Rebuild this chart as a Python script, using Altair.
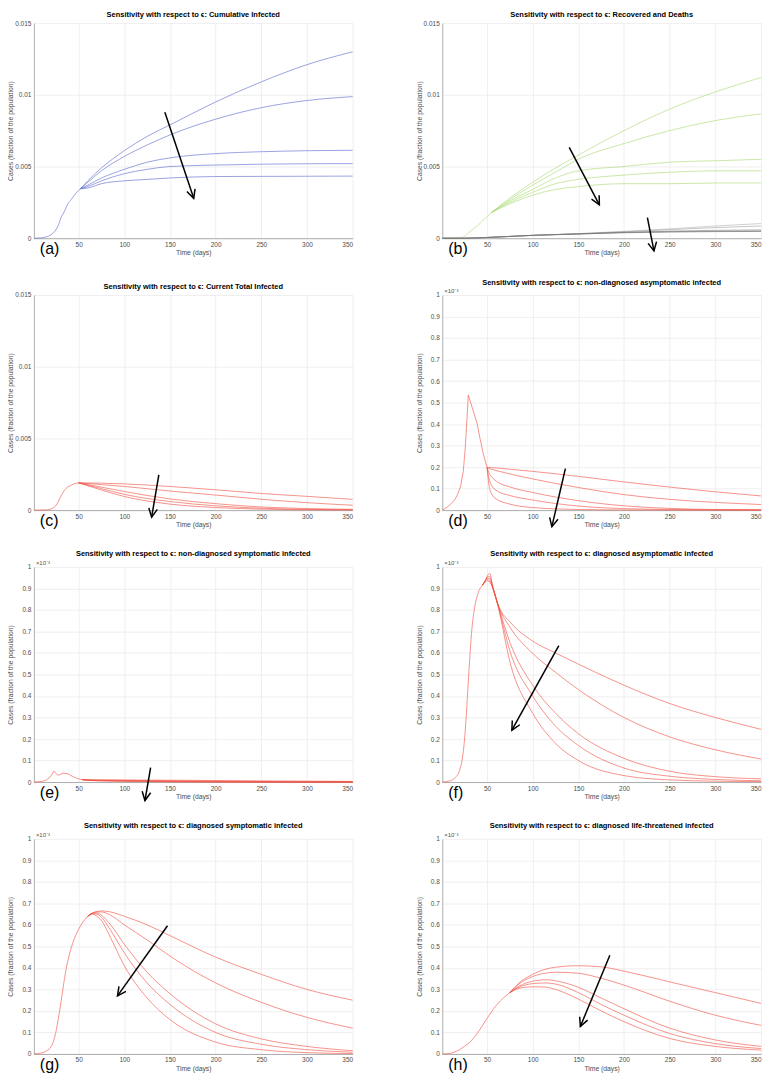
import math
import altair as alt
import pandas as pd

# ---------------- data ----------------
X_TICKS = [50, 100, 150, 200, 250, 300, 350]
Y_TICKS_BIG = [0, 0.005, 0.01, 0.015]
Y_TICKS_SMALL = [0, 0.1, 0.2, 0.3, 0.4, 0.5, 0.6, 0.7, 0.8, 0.9, 1.0]

# (a) cumulative infected
a_t_pre = [1, 10, 16, 20, 24, 27, 29, 31, 33, 36, 38, 42, 45, 49, 52]
a_v_pre = [0, 0.00003, 0.00012, 0.00025, 0.00049, 0.0008, 0.00112, 0.00149, 0.0017, 0.0021,
           0.00238, 0.0027, 0.00298, 0.00327, 0.00345]
a_t_post = [52, 60, 75, 100, 125, 150, 200, 250, 300, 350]
a_v_post = [
    [0.00345, 0.0040, 0.0049, 0.0061, 0.0071, 0.0079, 0.0095, 0.0109, 0.0121, 0.0130],
    [0.00345, 0.0039, 0.0047, 0.0057, 0.0065, 0.0072, 0.0083, 0.0091, 0.0096, 0.00987],
    [0.00345, 0.0037, 0.0042, 0.0048, 0.0053, 0.0056, 0.0059, 0.00603, 0.0061, 0.00613],
    [0.00345, 0.0036, 0.0040, 0.0045, 0.0048, 0.0050, 0.0051, 0.00516, 0.00519, 0.0052],
    [0.00345, 0.0035, 0.0038, 0.0040, 0.0041, 0.0042, 0.0043, 0.00431, 0.00432, 0.00433],
]

# (b) recovered (green) and deaths (grey)
b_t_pre = [1, 20, 25, 30, 35, 40, 45, 50, 55]
b_v_pre = [0, 0.00003, 0.0001, 0.0004, 0.00065, 0.0009, 0.0012, 0.0015, 0.0018]
b_t_post = [55, 75, 100, 125, 150, 200, 250, 300, 350]
b_v_post = [
    [0.0018, 0.0028, 0.0039, 0.0049, 0.0058, 0.0075, 0.0090, 0.0102, 0.0112],
    [0.0018, 0.0027, 0.0037, 0.0046, 0.0055, 0.0066, 0.0075, 0.0082, 0.00867],
    [0.0018, 0.0026, 0.0034, 0.0042, 0.0047, 0.0050, 0.0053, 0.0054, 0.0055],
    [0.0018, 0.0025, 0.0032, 0.0038, 0.0041, 0.0044, 0.0046, 0.0047, 0.0047],
    [0.0018, 0.0024, 0.0030, 0.0034, 0.0036, 0.0038, 0.0038, 0.00385, 0.00385],
]
b_t_death = [1, 25, 50, 100, 150, 200, 250, 300, 350]
b_v_death = [
    [0, 0, 0.00005, 0.0002, 0.00032, 0.00048, 0.00065, 0.00085, 0.00102],
    [0, 0, 0.00005, 0.0002, 0.00031, 0.00045, 0.0006, 0.00074, 0.00085],
    [0, 0, 0.00005, 0.0002, 0.0003, 0.00042, 0.0005, 0.00055, 0.00058],
    [0, 0, 0.00005, 0.0002, 0.0003, 0.0004, 0.00046, 0.00049, 0.00051],
    [0, 0, 0.00005, 0.0002, 0.00029, 0.00038, 0.00043, 0.00046, 0.00047],
]

# (c) current total infected
c_t_pre = [1, 15, 20, 24, 27, 30, 33, 36, 40, 45, 50]
c_v_pre = [0, 0.00002, 0.00008, 0.00025, 0.0005, 0.0009, 0.00125, 0.0015, 0.00168, 0.00183, 0.0019]
c_t_post = [50, 75, 100, 150, 200, 250, 300, 350]
c_v_post = [
    [0.0019, 0.00188, 0.00183, 0.00165, 0.00142, 0.00116, 0.00096, 0.00075],
    [0.0019, 0.00178, 0.00165, 0.00133, 0.00105, 0.00076, 0.00052, 0.00034],
    [0.0019, 0.0016, 0.0013, 0.00078, 0.00045, 0.00022, 0.00011, 0.00006],
    [0.0019, 0.0015, 0.0011, 0.0006, 0.0003, 0.00013, 0.00005, 0.00002],
    [0.0019, 0.0014, 0.00095, 0.00042, 0.00018, 0.00007, 0.00002, 0.00001],
]

# (d) non-diagnosed asymptomatic (x 1e-3)
d_t_pre = [1, 5, 10, 15, 18, 21, 24, 26, 28, 29.5, 35, 39, 42, 46, 50]
d_v_pre = [0, 0.01, 0.027, 0.05, 0.075, 0.11, 0.18, 0.28, 0.42, 0.535, 0.46, 0.405, 0.34, 0.26, 0.198]
d_t_post = [50, 52, 55, 60, 75, 100, 150, 200, 250, 300, 350]
d_v_post = [
    [0.198, 0.198, 0.197, 0.196, 0.19, 0.18, 0.157, 0.131, 0.107, 0.085, 0.066],
    [0.198, 0.194, 0.19, 0.184, 0.168, 0.145, 0.105, 0.072, 0.05, 0.036, 0.026],
    [0.198, 0.175, 0.155, 0.135, 0.108, 0.082, 0.044, 0.02, 0.008, 0.003, 0.002],
    [0.198, 0.15, 0.115, 0.092, 0.068, 0.047, 0.019, 0.007, 0.003, 0.001, 0.0005],
    [0.198, 0.12, 0.075, 0.052, 0.028, 0.012, 0.003, 0.001, 0.0003, 0.0001, 0],
]

# (e) non-diagnosed symptomatic (x 1e-3)
e_t_pre = [1, 10, 15, 19, 23, 25, 27.5, 30, 33, 38.5, 43, 49, 54]
e_v_pre = [0, 0.003, 0.01, 0.025, 0.051, 0.04, 0.031, 0.036, 0.041, 0.038, 0.027, 0.016, 0.011]
e_t_post = [54, 60, 75, 100, 150, 200, 250, 300, 350]
e_v_post = [
    [0.011, 0.010, 0.0098, 0.0095, 0.0085, 0.007, 0.0055, 0.0042, 0.003],
    [0.011, 0.0095, 0.009, 0.008, 0.006, 0.004, 0.0025, 0.0015, 0.001],
    [0.011, 0.009, 0.0075, 0.006, 0.003, 0.0015, 0.0007, 0.0003, 0.0001],
    [0.011, 0.0085, 0.0065, 0.0045, 0.002, 0.0008, 0.0003, 0.0001, 0],
    [0.011, 0.008, 0.005, 0.003, 0.001, 0.0003, 0.0001, 0, 0],
]

# (f) diagnosed asymptomatic (x 1e-3)
f_t_pre = [1, 10, 15, 20, 23, 25, 27, 29, 31, 33, 36, 40, 45]
f_v_pre = [0, 0.006, 0.02, 0.055, 0.11, 0.18, 0.29, 0.43, 0.57, 0.69, 0.80, 0.875, 0.915]
f_t_post = [45, 48, 50, 53, 56, 63, 75, 100, 125, 150, 200, 250, 300, 350]
f_v_post = [
    [0.915, 0.93, 0.935, 0.93, 0.905, 0.815, 0.745, 0.655, 0.6, 0.548, 0.45, 0.365, 0.30, 0.245],
    [0.915, 0.935, 0.942, 0.935, 0.905, 0.812, 0.72, 0.598, 0.51, 0.43, 0.30, 0.21, 0.15, 0.107],
    [0.915, 0.935, 0.948, 0.945, 0.91, 0.81, 0.65, 0.45, 0.32, 0.225, 0.11, 0.05, 0.025, 0.015],
    [0.915, 0.935, 0.952, 0.955, 0.91, 0.805, 0.61, 0.40, 0.26, 0.17, 0.065, 0.027, 0.012, 0.006],
    [0.915, 0.935, 0.955, 0.97, 0.915, 0.80, 0.56, 0.32, 0.18, 0.10, 0.03, 0.01, 0.004, 0.002],
]

# (g) diagnosed symptomatic (x 1e-3)
g_t_pre = [1, 10, 15, 20, 25, 28, 31, 34.5, 38, 43.5, 50, 55, 60]
g_v_pre = [0, 0.005, 0.015, 0.035, 0.1, 0.17, 0.25, 0.35, 0.43, 0.515, 0.58, 0.615, 0.64]
g_t_post = [60, 65, 70, 75, 85, 100, 125, 150, 200, 250, 300, 350]
g_v_post = [
    [0.64, 0.655, 0.662, 0.665, 0.66, 0.64, 0.6, 0.55, 0.45, 0.37, 0.30, 0.25],
    [0.64, 0.655, 0.66, 0.66, 0.645, 0.6, 0.53, 0.455, 0.33, 0.24, 0.17, 0.12],
    [0.64, 0.653, 0.655, 0.645, 0.6, 0.51, 0.38, 0.28, 0.14, 0.07, 0.035, 0.015],
    [0.64, 0.652, 0.65, 0.635, 0.575, 0.47, 0.33, 0.23, 0.10, 0.045, 0.02, 0.008],
    [0.64, 0.65, 0.64, 0.62, 0.54, 0.41, 0.26, 0.16, 0.055, 0.02, 0.006, 0.002],
]

# (h) diagnosed life-threatened (x 1e-3)
h_t_pre = [1, 10, 15, 20, 25, 30, 40, 50, 60, 70, 75]
h_v_pre = [0, 0.003, 0.01, 0.02, 0.035, 0.05, 0.1, 0.165, 0.225, 0.268, 0.285]
h_t_post = [75, 85, 100, 115, 125, 150, 175, 200, 250, 300, 350]
h_v_post = [
    [0.285, 0.33, 0.37, 0.395, 0.403, 0.41, 0.405, 0.385, 0.335, 0.285, 0.235],
    [0.285, 0.325, 0.36, 0.376, 0.38, 0.375, 0.352, 0.32, 0.245, 0.18, 0.133],
    [0.285, 0.315, 0.338, 0.345, 0.34, 0.31, 0.26, 0.21, 0.12, 0.065, 0.035],
    [0.285, 0.31, 0.327, 0.33, 0.325, 0.285, 0.23, 0.18, 0.095, 0.048, 0.025],
    [0.285, 0.305, 0.312, 0.31, 0.3, 0.255, 0.2, 0.15, 0.072, 0.035, 0.018],
]

# arrows: (t_start, v_start, t_end, v_end)
a_arrows = [(144.4, 0.00878, 176, 0.00278)]
b_arrows = [(140, 0.00633, 173, 0.00233), (225.6, 0.00144, 232.8, -0.00089)]
c_arrows = [(137.8, 0.00246, 129.9, -0.00049)]
d_arrows = [(135.8, 0.193, 121, -0.077)]
e_arrows = [(128.8, 0.067, 122.6, -0.086)]
f_arrows = [(128.6, 0.634, 77.2, 0.241)]
g_arrows = [(147.3, 0.596, 92.5, 0.27)]
h_arrows = [(184.5, 0.459, 152.2, 0.128)]

TITLE_PREFIX = "Sensitivity with respect to ϵ: "

# ---------------- styling / layout ----------------
W, H = 320, 216
X_DOM = [1, 350]
RED = "#ef4a3c"
BLUE = "#5566cc"
GREEN = "#a6d86a"
GREYS = ["#b0b0b0", "#a0a0a0", "#8c8c8c", "#7a7a7a", "#686868"]
FONT = "Liberation Sans"
HEAD = "M -0.5 1 L 0 0 L 0.5 1"
LW = 0.6
Y_TITLE = "Cases (fraction of the population)"


def curves_df(t_pre, v_pre, t_post, v_post):
    rows = [{"t": t, "v": v, "s": "pre"} for t, v in zip(t_pre, v_pre)]
    for i, vals in enumerate(v_post):
        rows += [{"t": t, "v": v, "s": f"s{i+1}"} for t, v in zip(t_post, vals)]
    return pd.DataFrame(rows)


def panel(title, letter, line_specs, ydom, yticks, yfmt, arrows, exponent=False):
    xscale = alt.Scale(domain=X_DOM, nice=False, zero=False)
    yscale = alt.Scale(domain=ydom, nice=False, zero=False)
    xaxis = alt.Axis(values=X_TICKS, title="Time (days)")
    yaxis = alt.Axis(values=yticks, format=yfmt, labelOverlap=False, title=Y_TITLE)
    xenc = alt.X("t:Q", scale=xscale, axis=xaxis)
    yenc = alt.Y("v:Q", scale=yscale, axis=yaxis)
    layers = []
    for df, color, interp, is_grey in line_specs:
        base = alt.Chart(df).mark_line(strokeWidth=LW, interpolate=interp, clip=False)
        if is_grey:
            layers.append(base.encode(
                x=xenc, y=yenc, detail="s:N",
                color=alt.Color("s:N", scale=alt.Scale(domain=[f"s{i+1}" for i in range(5)],
                                                       range=GREYS), legend=None)))
        else:
            layers.append(base.encode(x=xenc, y=yenc, detail="s:N", color=alt.value(color)))

    ys = ydom[1] - ydom[0]
    xs = X_DOM[1] - X_DOM[0]
    arr_rows = []
    for (t1, v1, t2, v2) in arrows:
        dx = (t2 - t1) * W / xs
        dy = -(v2 - v1) * H / ys
        ang = math.degrees(math.atan2(dx, -dy)) % 360
        arr_rows.append({"t": t1, "v": v1, "t2": t2, "v2": v2, "ang": ang})
    adf = pd.DataFrame(arr_rows)
    layers.append(alt.Chart(adf).mark_rule(color="black", strokeWidth=1.5).encode(
        x=xenc, y=yenc, x2="t2:Q", y2="v2:Q"))
    layers.append(alt.Chart(adf).mark_point(shape=HEAD, filled=False, color="black",
                                            strokeWidth=1.5, size=300, opacity=1).encode(
        x=alt.X("t2:Q", scale=xscale, axis=xaxis),
        y=alt.Y("v2:Q", scale=yscale, axis=yaxis),
        angle=alt.Angle("ang:Q", scale=None)))

    layers.append(alt.Chart(pd.DataFrame({"lab": [letter]})).mark_text(
        align="left", baseline="middle", fontSize=16, font=FONT, color="black").encode(
        text="lab:N", x=alt.value(6), y=alt.value(H + 11)))
    if exponent:
        layers.append(alt.Chart(pd.DataFrame({"lab": ["×10⁻³"]})).mark_text(
            align="left", baseline="bottom", fontSize=6, font=FONT, color="#555555").encode(
            text="lab:N", x=alt.value(2), y=alt.value(-1)))
    return alt.layer(*layers).properties(
        width=W, height=H,
        title=alt.TitleParams(TITLE_PREFIX + title, fontSize=7.5, fontWeight="bold",
                              font=FONT, color="black", offset=2))


BIG = dict(ydom=[0, 0.015], yticks=Y_TICKS_BIG, yfmt=".3~f")
SMALL = dict(ydom=[0, 1], yticks=Y_TICKS_SMALL, yfmt=".1~f", exponent=True)

pa = panel("Cumulative Infected", "(a)",
           [(curves_df(a_t_pre, a_v_pre, a_t_post, a_v_post), BLUE, "monotone", False)],
           arrows=a_arrows, **BIG)
pb = panel("Recovered and Deaths", "(b)",
           [(curves_df(b_t_pre, b_v_pre, b_t_post, b_v_post), GREEN, "monotone", False),
            (curves_df([], [], b_t_death, b_v_death), None, "monotone", True)],
           arrows=b_arrows, **BIG)
pc = panel("Current Total Infected", "(c)",
           [(curves_df(c_t_pre, c_v_pre, c_t_post, c_v_post), RED, "monotone", False)],
           arrows=c_arrows, **BIG)
pd_ = panel("non-diagnosed asymptomatic infected", "(d)",
            [(curves_df(d_t_pre, d_v_pre, [], []), RED, "linear", False),
             (curves_df([], [], d_t_post, d_v_post), RED, "monotone", False)],
            arrows=d_arrows, **SMALL)
pe = panel("non-diagnosed symptomatic infected", "(e)",
           [(curves_df(e_t_pre, e_v_pre, [], []), RED, "linear", False),
            (curves_df([], [], e_t_post, e_v_post), RED, "monotone", False)],
           arrows=e_arrows, **SMALL)
pf = panel("diagnosed asymptomatic infected", "(f)",
           [(curves_df(f_t_pre, f_v_pre, f_t_post, f_v_post), RED, "monotone", False)],
           arrows=f_arrows, **SMALL)
pg = panel("diagnosed symptomatic infected", "(g)",
           [(curves_df(g_t_pre, g_v_pre, g_t_post, g_v_post), RED, "monotone", False)],
           arrows=g_arrows, **SMALL)
ph = panel("diagnosed life-threatened infected", "(h)",
           [(curves_df(h_t_pre, h_v_pre, h_t_post, h_v_post), RED, "monotone", False)],
           arrows=h_arrows, **SMALL)

chart = alt.concat(pa, pb, pc, pd_, pe, pf, pg, ph, columns=2,
                   spacing=alt.RowColnumber(row=57, column=90), bounds="flush",
                   padding={"left": 0, "top": 0, "right": 0, "bottom": 0}
                   ).configure(font=FONT).configure_view(strokeWidth=0).configure_axis(
    labelFontSize=6.5, labelColor="#4d4d4d", labelFont=FONT, labelPadding=3,
    titleFontSize=6.8, titleFont=FONT, titleColor="#4d4d4d", titleFontWeight="normal",
    ticks=False, grid=True, gridColor="#ebebeb", gridWidth=0.8,
    domainColor="#9a9a9a", domainWidth=0.8,
).configure_axisY(minExtent=19, maxExtent=19, titlePadding=1).configure_axisX(titlePadding=2)

chart.save("out.html", embed_options={"renderer": "svg", "actions": False})
